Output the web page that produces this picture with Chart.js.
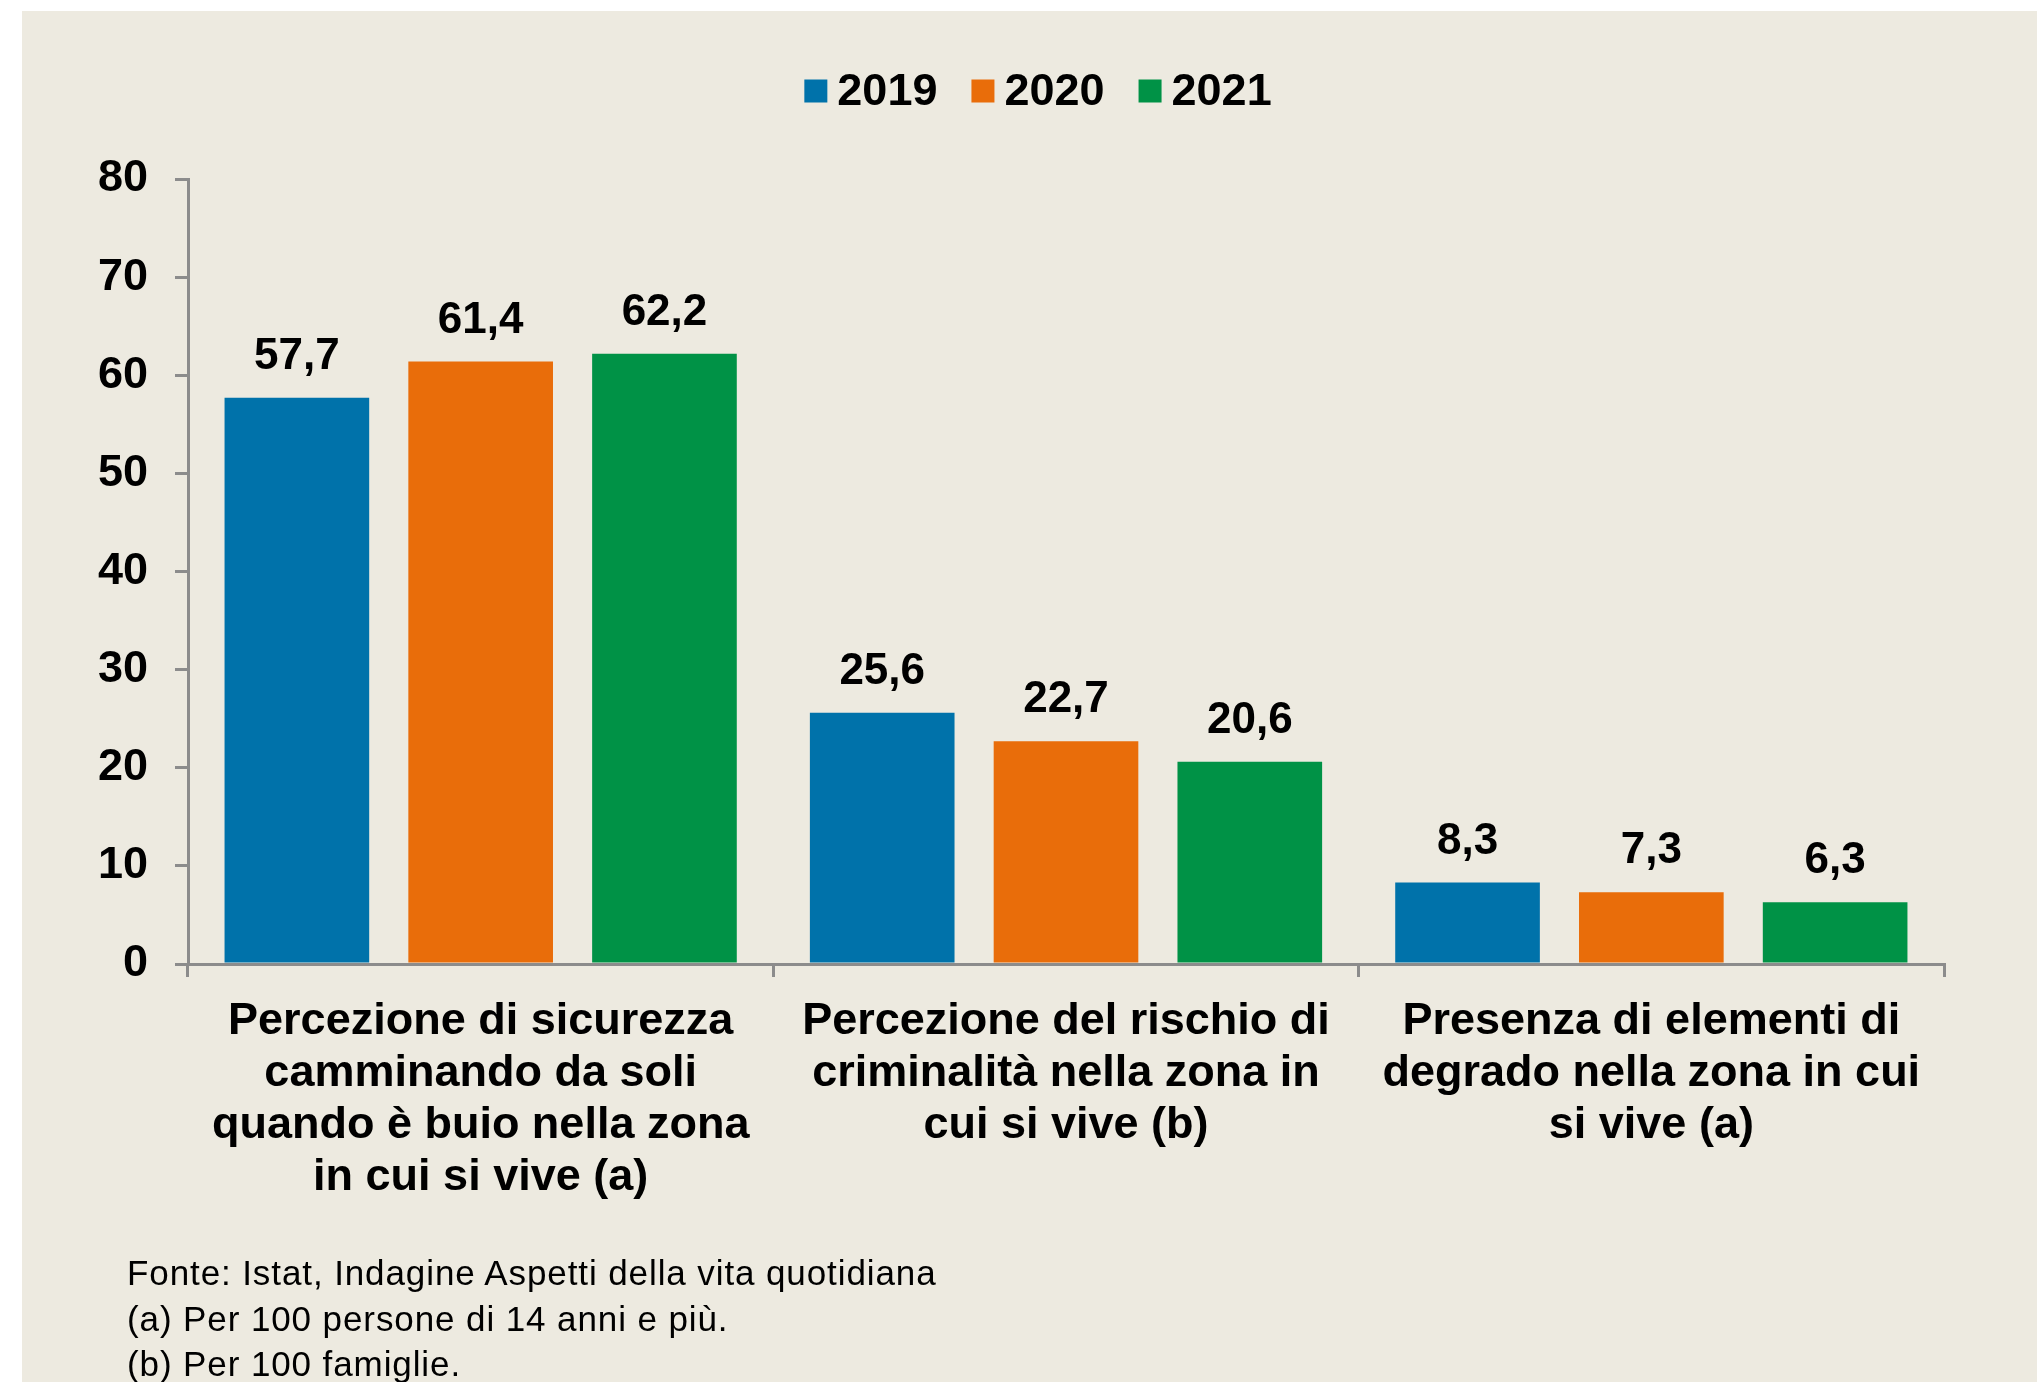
<!DOCTYPE html>
<html lang="it">
<head>
<meta charset="utf-8">
<title>Sicurezza e degrado nella zona in cui si vive</title>
<script src="https://cdn.jsdelivr.net/npm/chart.js@4.4.1/dist/chart.umd.min.js"></script>
<style>
  html, body { margin: 0; padding: 0; background: #fff; }
  #wrap { position: relative; width: 2040px; height: 1382px; overflow: hidden; }
  #panel { position: absolute; left: 22px; top: 11px; width: 2015px; height: 1371px; background: #edeae0; }
  #box { position: absolute; left: 0; top: 0; width: 2040px; height: 1382px; }
  #note { position: absolute; left: 127px; top: 1250px; font: 35px/45.5px "Liberation Sans", Arial, sans-serif; letter-spacing: 0.9px; color: #000; }
</style>
</head>
<body>
<div id="wrap">
  <div id="panel"></div>
  <div id="box"><canvas id="grafico"></canvas></div>
  <div id="note">
    Fonte: Istat, Indagine Aspetti della vita quotidiana<br>
    (a) Per 100 persone di 14 anni e più.<br>
    (b) Per 100 famiglie.
  </div>
</div>
<script>
const categorie = [
  ["Percezione di sicurezza", "camminando da soli", "quando è buio nella zona", "in cui si vive (a)"],
  ["Percezione del rischio di", "criminalità nella zona in", "cui si vive (b)"],
  ["Presenza di elementi di", "degrado nella zona in cui", "si vive (a)"]
];
const anni = ["2019", "2020", "2021"];
const valori2019 = [57.7, 25.6, 8.3];
const valori2020 = [61.4, 22.7, 7.3];
const valori2021 = [62.2, 20.6, 6.3];
const colori = ["#0072aa", "#e96d0a", "#009246"];

const famiglia = '"Liberation Sans", Arial, sans-serif';
const grigio = "#8c8c8c";

// etichette sopra le barre, con la virgola decimale
const etichette = {
  id: "etichette",
  afterDatasetsDraw(chart) {
    const ctx = chart.ctx;
    ctx.save();
    ctx.font = "bold 44px " + famiglia;
    ctx.fillStyle = "#000";
    ctx.textAlign = "center";
    ctx.textBaseline = "alphabetic";
    chart.data.datasets.forEach((ds, i) => {
      chart.getDatasetMeta(i).data.forEach((bar, j) => {
        const testo = ds.data[j].toFixed(1).replace(".", ",");
        ctx.fillText(testo, bar.x, bar.y - 29);
      });
    });
    ctx.restore();
  }
};

// legenda in alto, centrata
const legenda = {
  id: "legenda",
  afterDraw(chart) {
    const ctx = chart.ctx;
    ctx.save();
    ctx.font = "bold 45px " + famiglia;
    ctx.textBaseline = "middle";
    ctx.textAlign = "left";
    const box = 23, gap = 10, spazio = 34, cy = 91;
    const larghezze = chart.data.datasets.map((ds) => ctx.measureText(ds.label).width);
    const totale = larghezze.reduce((a, w) => a + box + gap + w, 0) + spazio * (larghezze.length - 1);
    let x = 1038 - totale / 2;
    chart.data.datasets.forEach((ds, i) => {
      ctx.fillStyle = ds.backgroundColor;
      ctx.fillRect(x, cy - box / 2, box, box);
      ctx.fillStyle = "#000";
      ctx.fillText(ds.label, x + box + gap, cy + 2);
      x += box + gap + larghezze[i] + spazio;
    });
    ctx.restore();
  }
};

new Chart(document.getElementById("grafico").getContext("2d"), {
  type: "bar",
  data: {
    labels: categorie,
    datasets: [
      { label: anni[0], data: valori2019, backgroundColor: colori[0] },
      { label: anni[1], data: valori2020, backgroundColor: colori[1] },
      { label: anni[2], data: valori2021, backgroundColor: colori[2] }
    ]
  },
  options: {
    responsive: true,
    maintainAspectRatio: false,
    animation: false,
    categoryPercentage: 0.942,
    barPercentage: 0.787,
    layout: { padding: { top: 179, right: 96, left: 0, bottom: 0 } },
    plugins: {
      legend: { display: false },
      tooltip: { enabled: false }
    },
    scales: {
      x: {
        ticks: {
          color: "#000",
          font: { size: 45, weight: "bold", family: famiglia, lineHeight: 1.16 },
          padding: 18,
          maxRotation: 0,
          autoSkip: false
        },
        grid: { drawOnChartArea: false, drawTicks: true, tickLength: 13, color: grigio, lineWidth: 3, offset: true },
        border: { color: grigio, width: 3 },
        afterFit(scale) { scale.height = 418; }
      },
      y: {
        min: 0,
        max: 80,
        ticks: {
          stepSize: 10,
          color: "#000",
          font: { size: 45, weight: "bold", family: famiglia },
          padding: 27
        },
        grid: { drawOnChartArea: false, drawTicks: true, tickLength: 13, color: grigio, lineWidth: 3 },
        border: { color: grigio, width: 3 },
        afterFit(scale) { scale.width = 188; }
      }
    }
  },
  plugins: [etichette, legenda]
});
</script>
</body>
</html>
